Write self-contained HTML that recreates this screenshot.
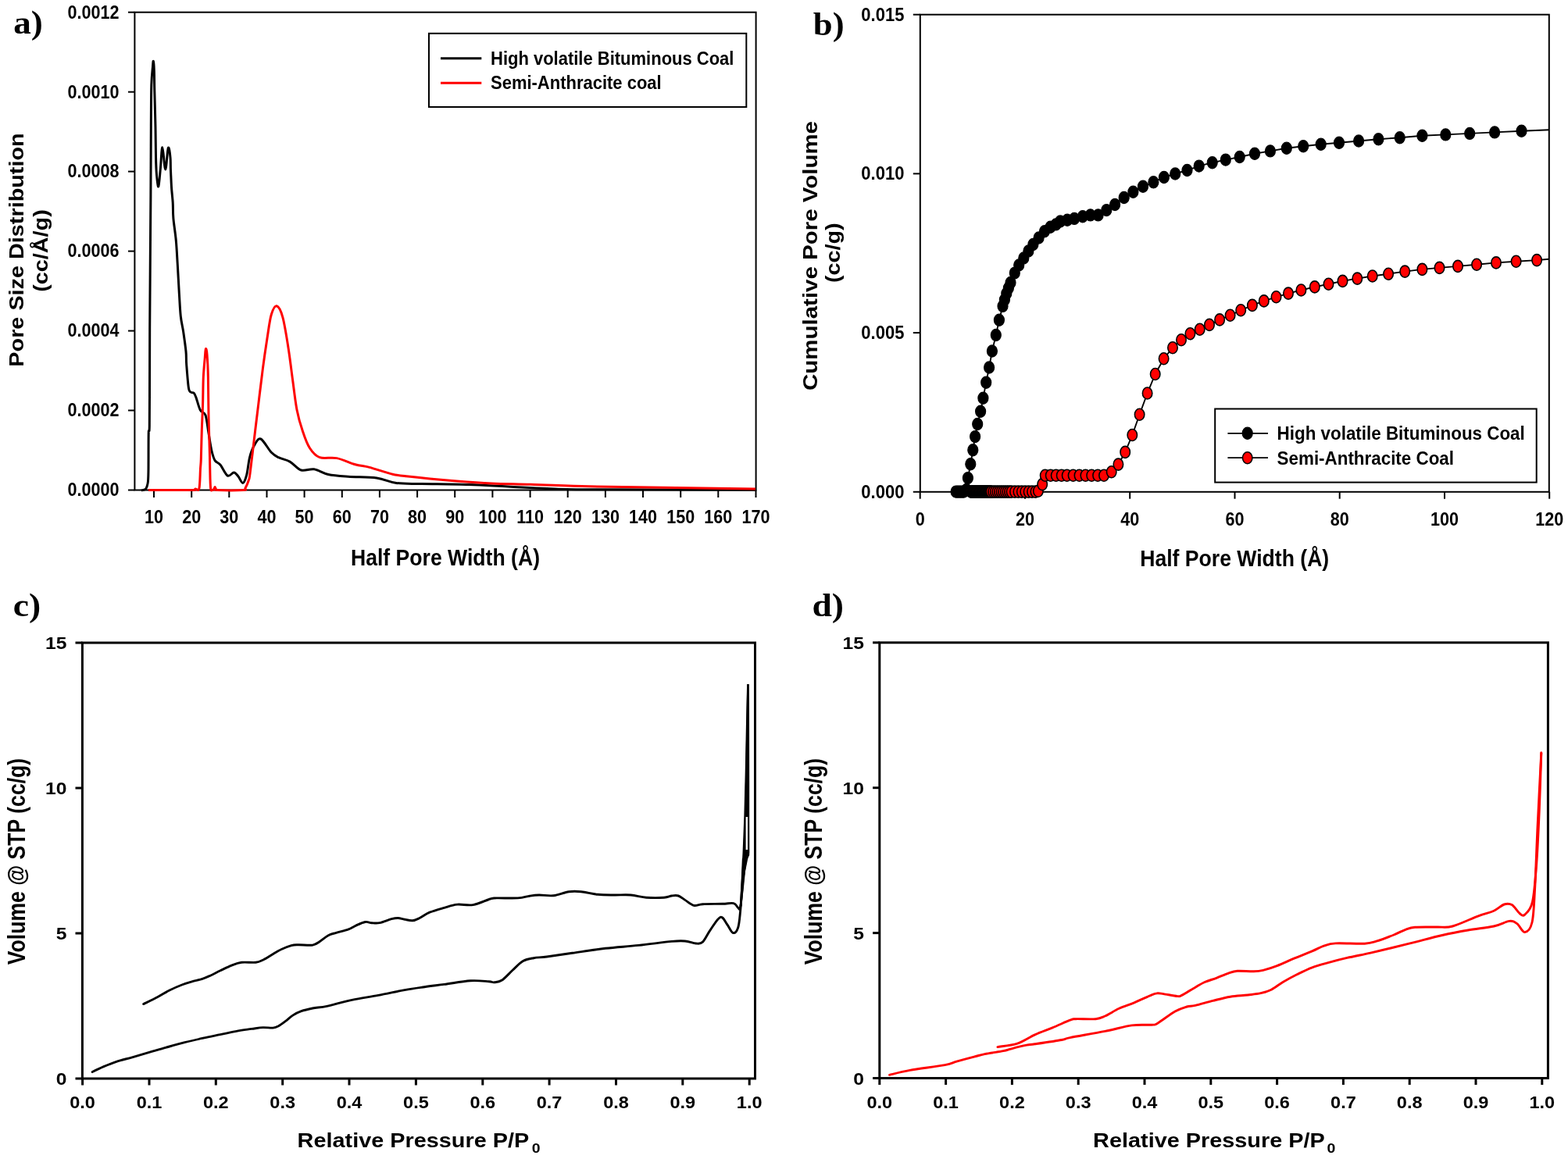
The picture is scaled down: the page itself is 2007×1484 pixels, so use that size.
<!DOCTYPE html><html><head><meta charset="utf-8"><title>Pore size distribution and isotherms</title>
<style>html,body{margin:0;padding:0;background:#fff;}body{width:2007px;height:1484px;overflow:hidden;}svg{display:block;}</style></head><body>
<svg width="2007" height="1484" viewBox="0 0 2007 1484">
<rect x="0" y="0" width="2007" height="1484" fill="#fff"/>
<text transform="translate(17.2 42.5) scale(1.05 1.0)" font-family="'Liberation Serif', 'Times New Roman', serif" font-size="43" font-weight="bold" text-anchor="start" fill="#000">a)</text>
<text transform="translate(1040.8 44.5) scale(1.04 1.0)" font-family="'Liberation Serif', 'Times New Roman', serif" font-size="43" font-weight="bold" text-anchor="start" fill="#000">b)</text>
<text transform="translate(16.8 789) scale(1.06 1.0)" font-family="'Liberation Serif', 'Times New Roman', serif" font-size="43" font-weight="bold" text-anchor="start" fill="#000">c)</text>
<text transform="translate(1039.5 789) scale(1.06 1.0)" font-family="'Liberation Serif', 'Times New Roman', serif" font-size="43" font-weight="bold" text-anchor="start" fill="#000">d)</text>
<g stroke="#000" stroke-width="2.0" fill="none" stroke-linecap="butt">
<rect x="172.4" y="15.7" width="795.2" height="611.8"/>
<line x1="164" y1="627.5" x2="172.4" y2="627.5"/>
<line x1="164" y1="525.5" x2="172.4" y2="525.5"/>
<line x1="164" y1="423.6" x2="172.4" y2="423.6"/>
<line x1="164" y1="321.6" x2="172.4" y2="321.6"/>
<line x1="164" y1="219.6" x2="172.4" y2="219.6"/>
<line x1="164" y1="117.7" x2="172.4" y2="117.7"/>
<line x1="164" y1="15.7" x2="172.4" y2="15.7"/>
<line x1="197" y1="627.5" x2="197" y2="637"/>
<line x1="245.2" y1="627.5" x2="245.2" y2="637"/>
<line x1="293.3" y1="627.5" x2="293.3" y2="637"/>
<line x1="341.5" y1="627.5" x2="341.5" y2="637"/>
<line x1="389.6" y1="627.5" x2="389.6" y2="637"/>
<line x1="437.8" y1="627.5" x2="437.8" y2="637"/>
<line x1="485.9" y1="627.5" x2="485.9" y2="637"/>
<line x1="534.1" y1="627.5" x2="534.1" y2="637"/>
<line x1="582.2" y1="627.5" x2="582.2" y2="637"/>
<line x1="630.4" y1="627.5" x2="630.4" y2="637"/>
<line x1="678.6" y1="627.5" x2="678.6" y2="637"/>
<line x1="726.7" y1="627.5" x2="726.7" y2="637"/>
<line x1="774.9" y1="627.5" x2="774.9" y2="637"/>
<line x1="823" y1="627.5" x2="823" y2="637"/>
<line x1="871.2" y1="627.5" x2="871.2" y2="637"/>
<line x1="919.3" y1="627.5" x2="919.3" y2="637"/>
<line x1="967.5" y1="627.5" x2="967.5" y2="637"/>
</g>
<text transform="translate(152.5 635.3) scale(1.0 1.1)" font-family="'Liberation Sans', Arial, Helvetica, sans-serif" font-size="21.6" font-weight="bold" text-anchor="end" fill="#000">0.0000</text>
<text transform="translate(152.5 533.3) scale(1.0 1.1)" font-family="'Liberation Sans', Arial, Helvetica, sans-serif" font-size="21.6" font-weight="bold" text-anchor="end" fill="#000">0.0002</text>
<text transform="translate(152.5 431.4) scale(1.0 1.1)" font-family="'Liberation Sans', Arial, Helvetica, sans-serif" font-size="21.6" font-weight="bold" text-anchor="end" fill="#000">0.0004</text>
<text transform="translate(152.5 329.4) scale(1.0 1.1)" font-family="'Liberation Sans', Arial, Helvetica, sans-serif" font-size="21.6" font-weight="bold" text-anchor="end" fill="#000">0.0006</text>
<text transform="translate(152.5 227.4) scale(1.0 1.1)" font-family="'Liberation Sans', Arial, Helvetica, sans-serif" font-size="21.6" font-weight="bold" text-anchor="end" fill="#000">0.0008</text>
<text transform="translate(152.5 125.5) scale(1.0 1.1)" font-family="'Liberation Sans', Arial, Helvetica, sans-serif" font-size="21.6" font-weight="bold" text-anchor="end" fill="#000">0.0010</text>
<text transform="translate(152.5 23.5) scale(1.0 1.1)" font-family="'Liberation Sans', Arial, Helvetica, sans-serif" font-size="21.6" font-weight="bold" text-anchor="end" fill="#000">0.0012</text>
<text transform="translate(197 669.6) scale(1.0 1.1)" font-family="'Liberation Sans', Arial, Helvetica, sans-serif" font-size="21.6" font-weight="bold" text-anchor="middle" fill="#000">10</text>
<text transform="translate(245.2 669.6) scale(1.0 1.1)" font-family="'Liberation Sans', Arial, Helvetica, sans-serif" font-size="21.6" font-weight="bold" text-anchor="middle" fill="#000">20</text>
<text transform="translate(293.3 669.6) scale(1.0 1.1)" font-family="'Liberation Sans', Arial, Helvetica, sans-serif" font-size="21.6" font-weight="bold" text-anchor="middle" fill="#000">30</text>
<text transform="translate(341.5 669.6) scale(1.0 1.1)" font-family="'Liberation Sans', Arial, Helvetica, sans-serif" font-size="21.6" font-weight="bold" text-anchor="middle" fill="#000">40</text>
<text transform="translate(389.6 669.6) scale(1.0 1.1)" font-family="'Liberation Sans', Arial, Helvetica, sans-serif" font-size="21.6" font-weight="bold" text-anchor="middle" fill="#000">50</text>
<text transform="translate(437.8 669.6) scale(1.0 1.1)" font-family="'Liberation Sans', Arial, Helvetica, sans-serif" font-size="21.6" font-weight="bold" text-anchor="middle" fill="#000">60</text>
<text transform="translate(485.9 669.6) scale(1.0 1.1)" font-family="'Liberation Sans', Arial, Helvetica, sans-serif" font-size="21.6" font-weight="bold" text-anchor="middle" fill="#000">70</text>
<text transform="translate(534.1 669.6) scale(1.0 1.1)" font-family="'Liberation Sans', Arial, Helvetica, sans-serif" font-size="21.6" font-weight="bold" text-anchor="middle" fill="#000">80</text>
<text transform="translate(582.2 669.6) scale(1.0 1.1)" font-family="'Liberation Sans', Arial, Helvetica, sans-serif" font-size="21.6" font-weight="bold" text-anchor="middle" fill="#000">90</text>
<text transform="translate(630.4 669.6) scale(1.0 1.1)" font-family="'Liberation Sans', Arial, Helvetica, sans-serif" font-size="21.6" font-weight="bold" text-anchor="middle" fill="#000">100</text>
<text transform="translate(678.6 669.6) scale(1.0 1.1)" font-family="'Liberation Sans', Arial, Helvetica, sans-serif" font-size="21.6" font-weight="bold" text-anchor="middle" fill="#000">110</text>
<text transform="translate(726.7 669.6) scale(1.0 1.1)" font-family="'Liberation Sans', Arial, Helvetica, sans-serif" font-size="21.6" font-weight="bold" text-anchor="middle" fill="#000">120</text>
<text transform="translate(774.9 669.6) scale(1.0 1.1)" font-family="'Liberation Sans', Arial, Helvetica, sans-serif" font-size="21.6" font-weight="bold" text-anchor="middle" fill="#000">130</text>
<text transform="translate(823 669.6) scale(1.0 1.1)" font-family="'Liberation Sans', Arial, Helvetica, sans-serif" font-size="21.6" font-weight="bold" text-anchor="middle" fill="#000">140</text>
<text transform="translate(871.2 669.6) scale(1.0 1.1)" font-family="'Liberation Sans', Arial, Helvetica, sans-serif" font-size="21.6" font-weight="bold" text-anchor="middle" fill="#000">150</text>
<text transform="translate(919.3 669.6) scale(1.0 1.1)" font-family="'Liberation Sans', Arial, Helvetica, sans-serif" font-size="21.6" font-weight="bold" text-anchor="middle" fill="#000">160</text>
<text transform="translate(967.5 669.6) scale(1.0 1.1)" font-family="'Liberation Sans', Arial, Helvetica, sans-serif" font-size="21.6" font-weight="bold" text-anchor="middle" fill="#000">170</text>
<text transform="translate(570 723.9) scale(1.0 1.1)" font-family="'Liberation Sans', Arial, Helvetica, sans-serif" font-size="26.6" font-weight="bold" text-anchor="middle" fill="#000">Half Pore Width (Å)</text>
<text transform="translate(30 320) rotate(-90) scale(1.1 1.0)" font-family="'Liberation Sans', Arial, Helvetica, sans-serif" font-size="26.2" font-weight="bold" text-anchor="middle" fill="#000">Pore Size Distribution</text>
<text transform="translate(60.5 321) rotate(-90) scale(1.1 1.0)" font-family="'Liberation Sans', Arial, Helvetica, sans-serif" font-size="26.2" font-weight="bold" text-anchor="middle" fill="#000">(cc/Å/g)</text>
<path fill="none" stroke="#000" stroke-width="3.0" stroke-linejoin="round" d="M181 628 C181.8 627.8 184.8 627.3 186 626.5 C187.2 625.7 187.4 624.8 188 623 C188.6 621.2 189.2 619.8 189.5 616 C189.8 612.2 189.9 610.2 190 600 C190.1 589.8 190 564.2 190.2 555 C190.4 545.8 191.1 559.2 191.3 545 C191.5 530.8 191.5 490.8 191.6 470 C191.7 449.2 191.5 456.7 191.7 420 C191.9 383.3 192.6 293.2 192.9 250 C193.2 206.8 193.2 184.5 193.3 161 C193.5 137.5 193.4 121.7 193.8 109 C194.2 96.3 195.1 90.1 195.5 85 C195.9 79.9 196 77.6 196.3 78.4 C196.6 79.2 197.1 83.6 197.3 90 C197.6 96.4 197.5 104.4 197.8 116.6 C198.1 128.8 198.7 149.1 199 163 C199.3 176.9 199.3 190.1 199.5 200 C199.7 209.9 199.8 216.2 200.4 222.7 C201 229.2 202 240.2 202.8 239 C203.6 237.8 204.6 224 205.4 215.6 C206.2 207.2 206.9 188.5 207.9 188.7 C208.9 188.9 210.5 216.9 211.7 217 C212.9 217.1 214.2 192 215.3 189.4 C216.4 186.8 217.5 196.6 218 201.4 C218.5 206.2 218.2 212 218.5 218.4 C218.8 224.8 219.1 232.8 219.5 239.6 C219.9 246.4 220.8 252.7 221.2 259.4 C221.6 266.1 221.2 271.5 221.9 279.6 C222.6 287.7 224.4 298.1 225.3 308 C226.2 317.9 226.6 327.8 227.3 339 C228 350.2 228.6 364 229.3 375 C230 386 230.4 396.7 231.3 405 C232.2 413.3 233.6 417.5 234.7 425 C235.8 432.5 237.3 443 238 450 C238.7 457 238.1 459.2 238.7 467 C239.3 474.8 240.5 490.8 241.4 496.6 C242.3 502.4 243 500.9 244.1 502 C245.2 503.1 247.1 502.2 248.2 503.3 C249.3 504.4 249.6 505.1 250.9 508.7 C252.2 512.3 254.3 521.2 256.3 525 C258.3 528.8 261.2 526.7 263 531.6 C264.8 536.5 265.7 547 267 554.6 C268.3 562.2 269.6 571.7 271 577.5 C272.4 583.3 273.3 586.7 275.1 589.6 C276.9 592.5 279.2 591.8 281.9 595 C284.6 598.2 288.4 607.4 291.3 609.1 C294.2 610.8 297.1 604.9 299.4 605 C301.6 605.1 302.9 607.6 304.8 609.8 C306.7 612 309 618.6 310.8 618.4 C312.6 618.2 314.1 614 315.6 608.5 C317.1 603 318 591.9 319.6 585.5 C321.2 579.1 323.1 574.1 325.5 570.2 C327.9 566.3 330.1 560.5 333.7 562 C337.3 563.5 343.5 575.3 347.3 579.3 C351.1 583.2 352.4 583.7 356.4 585.7 C360.3 587.7 366.1 588.4 371 591.1 C375.9 593.8 380.4 600.4 385.5 602 C390.6 603.6 396.1 599.9 401.9 600.8 C407.7 601.7 412.8 605.9 420.1 607.5 C427.4 609.1 435.3 609.5 445.6 610.2 C455.9 611 471.7 610.6 482 612 C492.3 613.4 497.7 617.2 507.4 618.5 C517.1 619.8 524.6 619.2 540 619.5 C555.4 619.8 581.7 619.9 600 620.5 C618.3 621.1 633.3 622.2 650 623 C666.7 623.8 681.7 624.9 700 625.5 C718.3 626.1 715.5 626.5 760 626.8 C804.5 627.1 932.5 627.2 967 627.3"/>
<path fill="none" stroke="#f00" stroke-width="3.0" stroke-linejoin="round" d="M190 627.5 C199.2 627.5 235 627.8 245 627.5 C255 627.2 248.3 626.3 250 626 C251.7 625.7 253.8 629.8 254.9 625.5 C256 621.2 256.1 606.2 256.5 600 C256.9 593.8 257 596.2 257.3 588 C257.6 579.8 257.9 562.4 258.3 550.5 C258.7 538.6 259.3 528 259.6 516.8 C259.9 505.5 259.9 492.9 260.3 483 C260.8 473.1 261.8 463.6 262.3 457.5 C262.8 451.4 262.9 447.4 263.4 446.7 C263.8 446 264.5 447.4 265 453.5 C265.5 459.6 266.1 470 266.4 483 C266.7 496 266.7 515.2 267 531.6 C267.3 548 268.1 568.1 268.4 581.5 C268.7 594.9 268.8 604.5 269 612 C269.2 619.5 269.3 623.9 269.8 626.5 C270.3 629.1 271.3 627.6 272 627.5 C272.7 627.4 273.5 626.6 274 626 C274.5 625.4 274.7 623.6 275.1 623.6 C275.5 623.6 275.8 625.4 276.3 626 C276.8 626.6 272.1 627.2 278 627.5 C283.9 627.8 305.5 627.9 311.5 627.5 C317.5 627.1 312.9 627 314 625 C315.1 623 317.2 618.3 318.2 615.2 C319.2 612.1 318.8 615.6 320 606.6 C321.2 597.6 323.7 576.2 325.5 561 C327.3 545.8 329.2 530.5 331 515.6 C332.8 500.8 334.6 485.5 336.4 471.9 C338.2 458.2 340.1 445.2 341.9 433.7 C343.7 422.2 345.2 409.8 347.3 402.8 C349.4 395.8 351.8 391.2 354.2 391.8 C356.6 392.4 359.4 397.3 361.9 406.4 C364.4 415.5 367.1 433 369.2 446.4 C371.3 459.8 372.8 473.4 374.6 486.5 C376.4 499.6 377.9 513.8 380 524.7 C382.1 535.6 384.6 543.8 387.4 552 C390.1 560.2 392.9 568.2 396.5 573.8 C400.1 579.4 403.4 583.6 409.2 585.7 C414.9 587.8 423.4 585.1 431 586.6 C438.6 588.1 447.7 592.7 454.7 594.7 C461.7 596.7 465.3 596.4 472.9 598.4 C480.5 600.4 492.4 604.7 500.2 606.6 C508 608.5 505.8 608.2 519.9 609.8 C534 611.4 566.3 614.5 584.6 616 C602.9 617.5 613.7 618.3 629.5 619 C645.3 619.7 658.5 619.7 679.3 620.3 C700 620.9 725.8 622.1 754 622.8 C782.2 623.5 813.2 623.8 848.7 624.3 C884.2 624.8 947.3 625.7 967 626"/>
<rect x="549" y="42.8" width="406.3" height="94.2" fill="#fff" stroke="#000" stroke-width="2"/>
<line x1="564" y1="74.8" x2="616.3" y2="74.8" stroke="#000" stroke-width="3"/>
<line x1="564" y1="106.2" x2="616.3" y2="106.2" stroke="#f00" stroke-width="3"/>
<text transform="translate(628 82.7) scale(1.0 1.1)" font-family="'Liberation Sans', Arial, Helvetica, sans-serif" font-size="22.0" font-weight="bold" text-anchor="start" fill="#000">High volatile Bituminous Coal</text>
<text transform="translate(628 113.5) scale(1.0 1.1)" font-family="'Liberation Sans', Arial, Helvetica, sans-serif" font-size="22.0" font-weight="bold" text-anchor="start" fill="#000">Semi-Anthracite coal</text>
<g stroke="#000" stroke-width="2" fill="none" stroke-linecap="butt">
<rect x="1177.8" y="18.7" width="805" height="611.1"/>
<line x1="1168.8" y1="629.8" x2="1177.8" y2="629.8"/>
<line x1="1168.8" y1="426.1" x2="1177.8" y2="426.1"/>
<line x1="1168.8" y1="222.4" x2="1177.8" y2="222.4"/>
<line x1="1168.8" y1="18.7" x2="1177.8" y2="18.7"/>
<line x1="1177.7" y1="629.8" x2="1177.7" y2="638.7"/>
<line x1="1312" y1="629.8" x2="1312" y2="638.7"/>
<line x1="1446.2" y1="629.8" x2="1446.2" y2="638.7"/>
<line x1="1580.5" y1="629.8" x2="1580.5" y2="638.7"/>
<line x1="1714.7" y1="629.8" x2="1714.7" y2="638.7"/>
<line x1="1849" y1="629.8" x2="1849" y2="638.7"/>
<line x1="1983.2" y1="629.8" x2="1983.2" y2="638.7"/>
</g>
<text transform="translate(1157.4 637.8) scale(1.0 1.1)" font-family="'Liberation Sans', Arial, Helvetica, sans-serif" font-size="22" font-weight="bold" text-anchor="end" fill="#000">0.000</text>
<text transform="translate(1157.4 434.1) scale(1.0 1.1)" font-family="'Liberation Sans', Arial, Helvetica, sans-serif" font-size="22" font-weight="bold" text-anchor="end" fill="#000">0.005</text>
<text transform="translate(1157.4 230.4) scale(1.0 1.1)" font-family="'Liberation Sans', Arial, Helvetica, sans-serif" font-size="22" font-weight="bold" text-anchor="end" fill="#000">0.010</text>
<text transform="translate(1157.4 26.7) scale(1.0 1.1)" font-family="'Liberation Sans', Arial, Helvetica, sans-serif" font-size="22" font-weight="bold" text-anchor="end" fill="#000">0.015</text>
<text transform="translate(1177.7 672.8) scale(1.0 1.1)" font-family="'Liberation Sans', Arial, Helvetica, sans-serif" font-size="21.6" font-weight="bold" text-anchor="middle" fill="#000">0</text>
<text transform="translate(1312 672.8) scale(1.0 1.1)" font-family="'Liberation Sans', Arial, Helvetica, sans-serif" font-size="21.6" font-weight="bold" text-anchor="middle" fill="#000">20</text>
<text transform="translate(1446.2 672.8) scale(1.0 1.1)" font-family="'Liberation Sans', Arial, Helvetica, sans-serif" font-size="21.6" font-weight="bold" text-anchor="middle" fill="#000">40</text>
<text transform="translate(1580.5 672.8) scale(1.0 1.1)" font-family="'Liberation Sans', Arial, Helvetica, sans-serif" font-size="21.6" font-weight="bold" text-anchor="middle" fill="#000">60</text>
<text transform="translate(1714.7 672.8) scale(1.0 1.1)" font-family="'Liberation Sans', Arial, Helvetica, sans-serif" font-size="21.6" font-weight="bold" text-anchor="middle" fill="#000">80</text>
<text transform="translate(1849 672.8) scale(1.0 1.1)" font-family="'Liberation Sans', Arial, Helvetica, sans-serif" font-size="21.6" font-weight="bold" text-anchor="middle" fill="#000">100</text>
<text transform="translate(1983.2 672.8) scale(1.0 1.1)" font-family="'Liberation Sans', Arial, Helvetica, sans-serif" font-size="21.6" font-weight="bold" text-anchor="middle" fill="#000">120</text>
<text transform="translate(1580.2 725.3) scale(1.0 1.1)" font-family="'Liberation Sans', Arial, Helvetica, sans-serif" font-size="26.6" font-weight="bold" text-anchor="middle" fill="#000">Half Pore Width (Å)</text>
<text transform="translate(1045.9 327.5) rotate(-90) scale(1.125 1.0)" font-family="'Liberation Sans', Arial, Helvetica, sans-serif" font-size="26.2" font-weight="bold" text-anchor="middle" fill="#000">Cumulative Pore Volume</text>
<text transform="translate(1075 323.7) rotate(-90) scale(1.1 1.0)" font-family="'Liberation Sans', Arial, Helvetica, sans-serif" font-size="26.2" font-weight="bold" text-anchor="middle" fill="#000">(cc/g)</text>
<polyline fill="none" stroke="#000" stroke-width="1.9" points="1223.6,629.6 1225.6,629.6 1227.6,629.6 1229.6,629.6 1231.6,629.6 1233.6,629.6 1237,627 1238.9,612.1 1242.3,594.2 1245.3,576.3 1248.1,559.1 1251.2,543 1255.1,526.8 1258.4,509.7 1262.2,489.7 1266.1,470.5 1269.9,449.5 1274.8,429 1278.9,409.8 1283.5,391.9 1285.9,383.8 1288.3,375.7 1290.9,368.8 1293.5,361.9 1298.8,349.6 1304.2,339.5 1310.3,330.5 1316.4,321.5 1322.4,313 1329.6,304.5 1337,296.3 1344.5,290.8 1351.5,287.4 1357.1,283.5 1366.1,281.7 1375.1,279.9 1385.8,277.2 1395.7,275.4 1405.6,275.4 1416.3,269.1 1427.1,262 1438.7,253 1450.4,245.8 1463,238.7 1476.4,233.3 1489.9,227 1504.2,222.5 1519.5,218 1534.7,212.6 1551.7,208.2 1568.8,204.6 1586.7,201 1606,196.8 1625.9,193.4 1646.8,189.8 1668.2,187.2 1690.7,184.8 1714,182.8 1739.1,180.5 1764.4,178.3 1791.7,176.3 1820.4,173.8 1850.3,172.4 1881.2,170.9 1913.1,169.4 1947.5,167.7 1982.8,166.2"/>
<ellipse cx="1223.6" cy="629.6" rx="6.5" ry="7.6" fill="#000" stroke="#000" stroke-width="1.2"/>
<ellipse cx="1225.6" cy="629.6" rx="6.5" ry="7.6" fill="#000" stroke="#000" stroke-width="1.2"/>
<ellipse cx="1227.6" cy="629.6" rx="6.5" ry="7.6" fill="#000" stroke="#000" stroke-width="1.2"/>
<ellipse cx="1229.6" cy="629.6" rx="6.5" ry="7.6" fill="#000" stroke="#000" stroke-width="1.2"/>
<ellipse cx="1231.6" cy="629.6" rx="6.5" ry="7.6" fill="#000" stroke="#000" stroke-width="1.2"/>
<ellipse cx="1233.6" cy="629.6" rx="6.5" ry="7.6" fill="#000" stroke="#000" stroke-width="1.2"/>
<ellipse cx="1237" cy="627" rx="6.5" ry="7.6" fill="#000" stroke="#000" stroke-width="1.2"/>
<ellipse cx="1238.9" cy="612.1" rx="6.5" ry="7.6" fill="#000" stroke="#000" stroke-width="1.2"/>
<ellipse cx="1242.3" cy="594.2" rx="6.5" ry="7.6" fill="#000" stroke="#000" stroke-width="1.2"/>
<ellipse cx="1245.3" cy="576.3" rx="6.5" ry="7.6" fill="#000" stroke="#000" stroke-width="1.2"/>
<ellipse cx="1248.1" cy="559.1" rx="6.5" ry="7.6" fill="#000" stroke="#000" stroke-width="1.2"/>
<ellipse cx="1251.2" cy="543" rx="6.5" ry="7.6" fill="#000" stroke="#000" stroke-width="1.2"/>
<ellipse cx="1255.1" cy="526.8" rx="6.5" ry="7.6" fill="#000" stroke="#000" stroke-width="1.2"/>
<ellipse cx="1258.4" cy="509.7" rx="6.5" ry="7.6" fill="#000" stroke="#000" stroke-width="1.2"/>
<ellipse cx="1262.2" cy="489.7" rx="6.5" ry="7.6" fill="#000" stroke="#000" stroke-width="1.2"/>
<ellipse cx="1266.1" cy="470.5" rx="6.5" ry="7.6" fill="#000" stroke="#000" stroke-width="1.2"/>
<ellipse cx="1269.9" cy="449.5" rx="6.5" ry="7.6" fill="#000" stroke="#000" stroke-width="1.2"/>
<ellipse cx="1274.8" cy="429" rx="6.5" ry="7.6" fill="#000" stroke="#000" stroke-width="1.2"/>
<ellipse cx="1278.9" cy="409.8" rx="6.5" ry="7.6" fill="#000" stroke="#000" stroke-width="1.2"/>
<ellipse cx="1283.5" cy="391.9" rx="6.5" ry="7.6" fill="#000" stroke="#000" stroke-width="1.2"/>
<ellipse cx="1285.9" cy="383.8" rx="6.5" ry="7.6" fill="#000" stroke="#000" stroke-width="1.2"/>
<ellipse cx="1288.3" cy="375.7" rx="6.5" ry="7.6" fill="#000" stroke="#000" stroke-width="1.2"/>
<ellipse cx="1290.9" cy="368.8" rx="6.5" ry="7.6" fill="#000" stroke="#000" stroke-width="1.2"/>
<ellipse cx="1293.5" cy="361.9" rx="6.5" ry="7.6" fill="#000" stroke="#000" stroke-width="1.2"/>
<ellipse cx="1298.8" cy="349.6" rx="6.5" ry="7.6" fill="#000" stroke="#000" stroke-width="1.2"/>
<ellipse cx="1304.2" cy="339.5" rx="6.5" ry="7.6" fill="#000" stroke="#000" stroke-width="1.2"/>
<ellipse cx="1310.3" cy="330.5" rx="6.5" ry="7.6" fill="#000" stroke="#000" stroke-width="1.2"/>
<ellipse cx="1316.4" cy="321.5" rx="6.5" ry="7.6" fill="#000" stroke="#000" stroke-width="1.2"/>
<ellipse cx="1322.4" cy="313" rx="6.5" ry="7.6" fill="#000" stroke="#000" stroke-width="1.2"/>
<ellipse cx="1329.6" cy="304.5" rx="6.5" ry="7.6" fill="#000" stroke="#000" stroke-width="1.2"/>
<ellipse cx="1337" cy="296.3" rx="6.5" ry="7.6" fill="#000" stroke="#000" stroke-width="1.2"/>
<ellipse cx="1344.5" cy="290.8" rx="6.5" ry="7.6" fill="#000" stroke="#000" stroke-width="1.2"/>
<ellipse cx="1351.5" cy="287.4" rx="6.5" ry="7.6" fill="#000" stroke="#000" stroke-width="1.2"/>
<ellipse cx="1357.1" cy="283.5" rx="6.5" ry="7.6" fill="#000" stroke="#000" stroke-width="1.2"/>
<ellipse cx="1366.1" cy="281.7" rx="6.5" ry="7.6" fill="#000" stroke="#000" stroke-width="1.2"/>
<ellipse cx="1375.1" cy="279.9" rx="6.5" ry="7.6" fill="#000" stroke="#000" stroke-width="1.2"/>
<ellipse cx="1385.8" cy="277.2" rx="6.5" ry="7.6" fill="#000" stroke="#000" stroke-width="1.2"/>
<ellipse cx="1395.7" cy="275.4" rx="6.5" ry="7.6" fill="#000" stroke="#000" stroke-width="1.2"/>
<ellipse cx="1405.6" cy="275.4" rx="6.5" ry="7.6" fill="#000" stroke="#000" stroke-width="1.2"/>
<ellipse cx="1416.3" cy="269.1" rx="6.5" ry="7.6" fill="#000" stroke="#000" stroke-width="1.2"/>
<ellipse cx="1427.1" cy="262" rx="6.5" ry="7.6" fill="#000" stroke="#000" stroke-width="1.2"/>
<ellipse cx="1438.7" cy="253" rx="6.5" ry="7.6" fill="#000" stroke="#000" stroke-width="1.2"/>
<ellipse cx="1450.4" cy="245.8" rx="6.5" ry="7.6" fill="#000" stroke="#000" stroke-width="1.2"/>
<ellipse cx="1463" cy="238.7" rx="6.5" ry="7.6" fill="#000" stroke="#000" stroke-width="1.2"/>
<ellipse cx="1476.4" cy="233.3" rx="6.5" ry="7.6" fill="#000" stroke="#000" stroke-width="1.2"/>
<ellipse cx="1489.9" cy="227" rx="6.5" ry="7.6" fill="#000" stroke="#000" stroke-width="1.2"/>
<ellipse cx="1504.2" cy="222.5" rx="6.5" ry="7.6" fill="#000" stroke="#000" stroke-width="1.2"/>
<ellipse cx="1519.5" cy="218" rx="6.5" ry="7.6" fill="#000" stroke="#000" stroke-width="1.2"/>
<ellipse cx="1534.7" cy="212.6" rx="6.5" ry="7.6" fill="#000" stroke="#000" stroke-width="1.2"/>
<ellipse cx="1551.7" cy="208.2" rx="6.5" ry="7.6" fill="#000" stroke="#000" stroke-width="1.2"/>
<ellipse cx="1568.8" cy="204.6" rx="6.5" ry="7.6" fill="#000" stroke="#000" stroke-width="1.2"/>
<ellipse cx="1586.7" cy="201" rx="6.5" ry="7.6" fill="#000" stroke="#000" stroke-width="1.2"/>
<ellipse cx="1606" cy="196.8" rx="6.5" ry="7.6" fill="#000" stroke="#000" stroke-width="1.2"/>
<ellipse cx="1625.9" cy="193.4" rx="6.5" ry="7.6" fill="#000" stroke="#000" stroke-width="1.2"/>
<ellipse cx="1646.8" cy="189.8" rx="6.5" ry="7.6" fill="#000" stroke="#000" stroke-width="1.2"/>
<ellipse cx="1668.2" cy="187.2" rx="6.5" ry="7.6" fill="#000" stroke="#000" stroke-width="1.2"/>
<ellipse cx="1690.7" cy="184.8" rx="6.5" ry="7.6" fill="#000" stroke="#000" stroke-width="1.2"/>
<ellipse cx="1714" cy="182.8" rx="6.5" ry="7.6" fill="#000" stroke="#000" stroke-width="1.2"/>
<ellipse cx="1739.1" cy="180.5" rx="6.5" ry="7.6" fill="#000" stroke="#000" stroke-width="1.2"/>
<ellipse cx="1764.4" cy="178.3" rx="6.5" ry="7.6" fill="#000" stroke="#000" stroke-width="1.2"/>
<ellipse cx="1791.7" cy="176.3" rx="6.5" ry="7.6" fill="#000" stroke="#000" stroke-width="1.2"/>
<ellipse cx="1820.4" cy="173.8" rx="6.5" ry="7.6" fill="#000" stroke="#000" stroke-width="1.2"/>
<ellipse cx="1850.3" cy="172.4" rx="6.5" ry="7.6" fill="#000" stroke="#000" stroke-width="1.2"/>
<ellipse cx="1881.2" cy="170.9" rx="6.5" ry="7.6" fill="#000" stroke="#000" stroke-width="1.2"/>
<ellipse cx="1913.1" cy="169.4" rx="6.5" ry="7.6" fill="#000" stroke="#000" stroke-width="1.2"/>
<ellipse cx="1947.5" cy="167.7" rx="6.5" ry="7.6" fill="#000" stroke="#000" stroke-width="1.2"/>
<polyline fill="none" stroke="#000" stroke-width="1.9" points="1243,629.6 1243.8,629.6 1244.6,629.6 1245.4,629.6 1246.2,629.6 1247,629.6 1247.8,629.6 1248.6,629.6 1249.4,629.6 1250.2,629.6 1251,629.6 1251.8,629.6 1252.6,629.6 1253.4,629.6 1254.2,629.6 1255,629.6 1255.8,629.6 1256.6,629.6 1257.4,629.6 1258.2,629.6 1259,629.6 1259.8,629.6 1260.6,629.6 1261.4,629.6 1262.2,629.6 1263,629.6 1263.8,629.6 1264.6,629.6 1265.4,629.6 1266.2,629.6 1267,629.6 1267.8,629.6 1268.6,629.6 1271.2,629.6 1273.8,629.6 1276.4,629.6 1279,629.6 1281.6,629.6 1284.2,629.6 1286.8,629.6 1289.4,629.6 1292,629.6 1294.6,629.6 1299,629.6 1303.4,629.6 1307.8,629.6 1312.2,629.6 1316.6,629.6 1321,629.6 1325.4,629.6 1328.9,628.8 1334.2,620.1 1337.7,608.7 1344.7,608.7 1351.7,608.7 1358.7,608.7 1365.7,608.7 1373.6,608.7 1381.5,608.7 1389.4,608.7 1397.2,608.7 1405.1,608.7 1413,608.7 1422.7,604.3 1431.4,594.6 1440.2,578.9 1449.3,557 1458.6,530.7 1468.6,503.5 1478.7,479 1489.6,459.2 1501,445.2 1512,435.2 1523.4,427.3 1535.7,421.7 1548,415.9 1561.1,409.4 1574.6,403.7 1588.2,397.3 1602.9,390.9 1617.8,385.4 1633.5,380.3 1649,375.6 1665.4,371.5 1682.8,367.4 1700.5,363.7 1718.5,359.9 1737.3,356.6 1756.7,353.5 1777.1,350.7 1798.2,347.6 1820.4,344.9 1842.5,342.9 1866,340.9 1890.1,338.8 1915,336.4 1940.6,334.7 1967.1,333.1 1982.8,331.7"/>
<ellipse cx="1243" cy="629.6" rx="6.2" ry="7.5" fill="#f00" stroke="#000" stroke-width="1.6"/>
<ellipse cx="1243.8" cy="629.6" rx="6.2" ry="7.5" fill="#f00" stroke="#000" stroke-width="1.6"/>
<ellipse cx="1244.6" cy="629.6" rx="6.2" ry="7.5" fill="#f00" stroke="#000" stroke-width="1.6"/>
<ellipse cx="1245.4" cy="629.6" rx="6.2" ry="7.5" fill="#f00" stroke="#000" stroke-width="1.6"/>
<ellipse cx="1246.2" cy="629.6" rx="6.2" ry="7.5" fill="#f00" stroke="#000" stroke-width="1.6"/>
<ellipse cx="1247" cy="629.6" rx="6.2" ry="7.5" fill="#f00" stroke="#000" stroke-width="1.6"/>
<ellipse cx="1247.8" cy="629.6" rx="6.2" ry="7.5" fill="#f00" stroke="#000" stroke-width="1.6"/>
<ellipse cx="1248.6" cy="629.6" rx="6.2" ry="7.5" fill="#f00" stroke="#000" stroke-width="1.6"/>
<ellipse cx="1249.4" cy="629.6" rx="6.2" ry="7.5" fill="#f00" stroke="#000" stroke-width="1.6"/>
<ellipse cx="1250.2" cy="629.6" rx="6.2" ry="7.5" fill="#f00" stroke="#000" stroke-width="1.6"/>
<ellipse cx="1251" cy="629.6" rx="6.2" ry="7.5" fill="#f00" stroke="#000" stroke-width="1.6"/>
<ellipse cx="1251.8" cy="629.6" rx="6.2" ry="7.5" fill="#f00" stroke="#000" stroke-width="1.6"/>
<ellipse cx="1252.6" cy="629.6" rx="6.2" ry="7.5" fill="#f00" stroke="#000" stroke-width="1.6"/>
<ellipse cx="1253.4" cy="629.6" rx="6.2" ry="7.5" fill="#f00" stroke="#000" stroke-width="1.6"/>
<ellipse cx="1254.2" cy="629.6" rx="6.2" ry="7.5" fill="#f00" stroke="#000" stroke-width="1.6"/>
<ellipse cx="1255" cy="629.6" rx="6.2" ry="7.5" fill="#f00" stroke="#000" stroke-width="1.6"/>
<ellipse cx="1255.8" cy="629.6" rx="6.2" ry="7.5" fill="#f00" stroke="#000" stroke-width="1.6"/>
<ellipse cx="1256.6" cy="629.6" rx="6.2" ry="7.5" fill="#f00" stroke="#000" stroke-width="1.6"/>
<ellipse cx="1257.4" cy="629.6" rx="6.2" ry="7.5" fill="#f00" stroke="#000" stroke-width="1.6"/>
<ellipse cx="1258.2" cy="629.6" rx="6.2" ry="7.5" fill="#f00" stroke="#000" stroke-width="1.6"/>
<ellipse cx="1259" cy="629.6" rx="6.2" ry="7.5" fill="#f00" stroke="#000" stroke-width="1.6"/>
<ellipse cx="1259.8" cy="629.6" rx="6.2" ry="7.5" fill="#f00" stroke="#000" stroke-width="1.6"/>
<ellipse cx="1260.6" cy="629.6" rx="6.2" ry="7.5" fill="#f00" stroke="#000" stroke-width="1.6"/>
<ellipse cx="1261.4" cy="629.6" rx="6.2" ry="7.5" fill="#f00" stroke="#000" stroke-width="1.6"/>
<ellipse cx="1262.2" cy="629.6" rx="6.2" ry="7.5" fill="#f00" stroke="#000" stroke-width="1.6"/>
<ellipse cx="1263" cy="629.6" rx="6.2" ry="7.5" fill="#f00" stroke="#000" stroke-width="1.6"/>
<ellipse cx="1263.8" cy="629.6" rx="6.2" ry="7.5" fill="#f00" stroke="#000" stroke-width="1.6"/>
<ellipse cx="1264.6" cy="629.6" rx="6.2" ry="7.5" fill="#f00" stroke="#000" stroke-width="1.6"/>
<ellipse cx="1265.4" cy="629.6" rx="6.2" ry="7.5" fill="#f00" stroke="#000" stroke-width="1.6"/>
<ellipse cx="1266.2" cy="629.6" rx="6.2" ry="7.5" fill="#f00" stroke="#000" stroke-width="1.6"/>
<ellipse cx="1267" cy="629.6" rx="6.2" ry="7.5" fill="#f00" stroke="#000" stroke-width="1.6"/>
<ellipse cx="1267.8" cy="629.6" rx="6.2" ry="7.5" fill="#f00" stroke="#000" stroke-width="1.6"/>
<ellipse cx="1268.6" cy="629.6" rx="6.2" ry="7.5" fill="#f00" stroke="#000" stroke-width="1.6"/>
<ellipse cx="1271.2" cy="629.6" rx="6.2" ry="7.5" fill="#f00" stroke="#000" stroke-width="1.6"/>
<ellipse cx="1273.8" cy="629.6" rx="6.2" ry="7.5" fill="#f00" stroke="#000" stroke-width="1.6"/>
<ellipse cx="1276.4" cy="629.6" rx="6.2" ry="7.5" fill="#f00" stroke="#000" stroke-width="1.6"/>
<ellipse cx="1279" cy="629.6" rx="6.2" ry="7.5" fill="#f00" stroke="#000" stroke-width="1.6"/>
<ellipse cx="1281.6" cy="629.6" rx="6.2" ry="7.5" fill="#f00" stroke="#000" stroke-width="1.6"/>
<ellipse cx="1284.2" cy="629.6" rx="6.2" ry="7.5" fill="#f00" stroke="#000" stroke-width="1.6"/>
<ellipse cx="1286.8" cy="629.6" rx="6.2" ry="7.5" fill="#f00" stroke="#000" stroke-width="1.6"/>
<ellipse cx="1289.4" cy="629.6" rx="6.2" ry="7.5" fill="#f00" stroke="#000" stroke-width="1.6"/>
<ellipse cx="1292" cy="629.6" rx="6.2" ry="7.5" fill="#f00" stroke="#000" stroke-width="1.6"/>
<ellipse cx="1294.6" cy="629.6" rx="6.2" ry="7.5" fill="#f00" stroke="#000" stroke-width="1.6"/>
<ellipse cx="1299" cy="629.6" rx="6.2" ry="7.5" fill="#f00" stroke="#000" stroke-width="1.6"/>
<ellipse cx="1303.4" cy="629.6" rx="6.2" ry="7.5" fill="#f00" stroke="#000" stroke-width="1.6"/>
<ellipse cx="1307.8" cy="629.6" rx="6.2" ry="7.5" fill="#f00" stroke="#000" stroke-width="1.6"/>
<ellipse cx="1312.2" cy="629.6" rx="6.2" ry="7.5" fill="#f00" stroke="#000" stroke-width="1.6"/>
<ellipse cx="1316.6" cy="629.6" rx="6.2" ry="7.5" fill="#f00" stroke="#000" stroke-width="1.6"/>
<ellipse cx="1321" cy="629.6" rx="6.2" ry="7.5" fill="#f00" stroke="#000" stroke-width="1.6"/>
<ellipse cx="1325.4" cy="629.6" rx="6.2" ry="7.5" fill="#f00" stroke="#000" stroke-width="1.6"/>
<ellipse cx="1328.9" cy="628.8" rx="6.2" ry="7.5" fill="#f00" stroke="#000" stroke-width="1.6"/>
<ellipse cx="1334.2" cy="620.1" rx="6.2" ry="7.5" fill="#f00" stroke="#000" stroke-width="1.6"/>
<ellipse cx="1337.7" cy="608.7" rx="6.2" ry="7.5" fill="#f00" stroke="#000" stroke-width="1.6"/>
<ellipse cx="1344.7" cy="608.7" rx="6.2" ry="7.5" fill="#f00" stroke="#000" stroke-width="1.6"/>
<ellipse cx="1351.7" cy="608.7" rx="6.2" ry="7.5" fill="#f00" stroke="#000" stroke-width="1.6"/>
<ellipse cx="1358.7" cy="608.7" rx="6.2" ry="7.5" fill="#f00" stroke="#000" stroke-width="1.6"/>
<ellipse cx="1365.7" cy="608.7" rx="6.2" ry="7.5" fill="#f00" stroke="#000" stroke-width="1.6"/>
<ellipse cx="1373.6" cy="608.7" rx="6.2" ry="7.5" fill="#f00" stroke="#000" stroke-width="1.6"/>
<ellipse cx="1381.5" cy="608.7" rx="6.2" ry="7.5" fill="#f00" stroke="#000" stroke-width="1.6"/>
<ellipse cx="1389.4" cy="608.7" rx="6.2" ry="7.5" fill="#f00" stroke="#000" stroke-width="1.6"/>
<ellipse cx="1397.2" cy="608.7" rx="6.2" ry="7.5" fill="#f00" stroke="#000" stroke-width="1.6"/>
<ellipse cx="1405.1" cy="608.7" rx="6.2" ry="7.5" fill="#f00" stroke="#000" stroke-width="1.6"/>
<ellipse cx="1413" cy="608.7" rx="6.2" ry="7.5" fill="#f00" stroke="#000" stroke-width="1.6"/>
<ellipse cx="1422.7" cy="604.3" rx="6.2" ry="7.5" fill="#f00" stroke="#000" stroke-width="1.6"/>
<ellipse cx="1431.4" cy="594.6" rx="6.2" ry="7.5" fill="#f00" stroke="#000" stroke-width="1.6"/>
<ellipse cx="1440.2" cy="578.9" rx="6.2" ry="7.5" fill="#f00" stroke="#000" stroke-width="1.6"/>
<ellipse cx="1449.3" cy="557" rx="6.2" ry="7.5" fill="#f00" stroke="#000" stroke-width="1.6"/>
<ellipse cx="1458.6" cy="530.7" rx="6.2" ry="7.5" fill="#f00" stroke="#000" stroke-width="1.6"/>
<ellipse cx="1468.6" cy="503.5" rx="6.2" ry="7.5" fill="#f00" stroke="#000" stroke-width="1.6"/>
<ellipse cx="1478.7" cy="479" rx="6.2" ry="7.5" fill="#f00" stroke="#000" stroke-width="1.6"/>
<ellipse cx="1489.6" cy="459.2" rx="6.2" ry="7.5" fill="#f00" stroke="#000" stroke-width="1.6"/>
<ellipse cx="1501" cy="445.2" rx="6.2" ry="7.5" fill="#f00" stroke="#000" stroke-width="1.6"/>
<ellipse cx="1512" cy="435.2" rx="6.2" ry="7.5" fill="#f00" stroke="#000" stroke-width="1.6"/>
<ellipse cx="1523.4" cy="427.3" rx="6.2" ry="7.5" fill="#f00" stroke="#000" stroke-width="1.6"/>
<ellipse cx="1535.7" cy="421.7" rx="6.2" ry="7.5" fill="#f00" stroke="#000" stroke-width="1.6"/>
<ellipse cx="1548" cy="415.9" rx="6.2" ry="7.5" fill="#f00" stroke="#000" stroke-width="1.6"/>
<ellipse cx="1561.1" cy="409.4" rx="6.2" ry="7.5" fill="#f00" stroke="#000" stroke-width="1.6"/>
<ellipse cx="1574.6" cy="403.7" rx="6.2" ry="7.5" fill="#f00" stroke="#000" stroke-width="1.6"/>
<ellipse cx="1588.2" cy="397.3" rx="6.2" ry="7.5" fill="#f00" stroke="#000" stroke-width="1.6"/>
<ellipse cx="1602.9" cy="390.9" rx="6.2" ry="7.5" fill="#f00" stroke="#000" stroke-width="1.6"/>
<ellipse cx="1617.8" cy="385.4" rx="6.2" ry="7.5" fill="#f00" stroke="#000" stroke-width="1.6"/>
<ellipse cx="1633.5" cy="380.3" rx="6.2" ry="7.5" fill="#f00" stroke="#000" stroke-width="1.6"/>
<ellipse cx="1649" cy="375.6" rx="6.2" ry="7.5" fill="#f00" stroke="#000" stroke-width="1.6"/>
<ellipse cx="1665.4" cy="371.5" rx="6.2" ry="7.5" fill="#f00" stroke="#000" stroke-width="1.6"/>
<ellipse cx="1682.8" cy="367.4" rx="6.2" ry="7.5" fill="#f00" stroke="#000" stroke-width="1.6"/>
<ellipse cx="1700.5" cy="363.7" rx="6.2" ry="7.5" fill="#f00" stroke="#000" stroke-width="1.6"/>
<ellipse cx="1718.5" cy="359.9" rx="6.2" ry="7.5" fill="#f00" stroke="#000" stroke-width="1.6"/>
<ellipse cx="1737.3" cy="356.6" rx="6.2" ry="7.5" fill="#f00" stroke="#000" stroke-width="1.6"/>
<ellipse cx="1756.7" cy="353.5" rx="6.2" ry="7.5" fill="#f00" stroke="#000" stroke-width="1.6"/>
<ellipse cx="1777.1" cy="350.7" rx="6.2" ry="7.5" fill="#f00" stroke="#000" stroke-width="1.6"/>
<ellipse cx="1798.2" cy="347.6" rx="6.2" ry="7.5" fill="#f00" stroke="#000" stroke-width="1.6"/>
<ellipse cx="1820.4" cy="344.9" rx="6.2" ry="7.5" fill="#f00" stroke="#000" stroke-width="1.6"/>
<ellipse cx="1842.5" cy="342.9" rx="6.2" ry="7.5" fill="#f00" stroke="#000" stroke-width="1.6"/>
<ellipse cx="1866" cy="340.9" rx="6.2" ry="7.5" fill="#f00" stroke="#000" stroke-width="1.6"/>
<ellipse cx="1890.1" cy="338.8" rx="6.2" ry="7.5" fill="#f00" stroke="#000" stroke-width="1.6"/>
<ellipse cx="1915" cy="336.4" rx="6.2" ry="7.5" fill="#f00" stroke="#000" stroke-width="1.6"/>
<ellipse cx="1940.6" cy="334.7" rx="6.2" ry="7.5" fill="#f00" stroke="#000" stroke-width="1.6"/>
<ellipse cx="1967.1" cy="333.1" rx="6.2" ry="7.5" fill="#f00" stroke="#000" stroke-width="1.6"/>
<rect x="1555.2" y="523.5" width="411.5" height="94.1" fill="#fff" stroke="#000" stroke-width="2"/>
<line x1="1571.4" y1="554.8" x2="1623" y2="554.8" stroke="#000" stroke-width="1.8"/>
<line x1="1571.4" y1="586.2" x2="1623" y2="586.2" stroke="#000" stroke-width="1.8"/>
<ellipse cx="1596.7" cy="554.8" rx="6.5" ry="7.6" fill="#000" stroke="#000" stroke-width="1.2"/>
<ellipse cx="1596.7" cy="586.2" rx="6.2" ry="7.5" fill="#f00" stroke="#000" stroke-width="1.6"/>
<text transform="translate(1634.6 563.1) scale(1.0 1.1)" font-family="'Liberation Sans', Arial, Helvetica, sans-serif" font-size="22.4" font-weight="bold" text-anchor="start" fill="#000">High volatile Bituminous Coal</text>
<text transform="translate(1634.6 594.5) scale(1.0 1.1)" font-family="'Liberation Sans', Arial, Helvetica, sans-serif" font-size="22.4" font-weight="bold" text-anchor="start" fill="#000">Semi-Anthracite Coal</text>
<g stroke="#000" stroke-width="3" fill="none" stroke-linecap="butt">
<rect x="105.4" y="823" width="861.1" height="558"/>
<line x1="96.5" y1="1381" x2="105.4" y2="1381"/>
<line x1="96.5" y1="1195" x2="105.4" y2="1195"/>
<line x1="96.5" y1="1009" x2="105.4" y2="1009"/>
<line x1="96.5" y1="823" x2="105.4" y2="823"/>
<line x1="105.6" y1="1381" x2="105.6" y2="1389.5"/>
<line x1="191" y1="1381" x2="191" y2="1389.5"/>
<line x1="276.3" y1="1381" x2="276.3" y2="1389.5"/>
<line x1="361.7" y1="1381" x2="361.7" y2="1389.5"/>
<line x1="447" y1="1381" x2="447" y2="1389.5"/>
<line x1="532.4" y1="1381" x2="532.4" y2="1389.5"/>
<line x1="617.8" y1="1381" x2="617.8" y2="1389.5"/>
<line x1="703.1" y1="1381" x2="703.1" y2="1389.5"/>
<line x1="788.5" y1="1381" x2="788.5" y2="1389.5"/>
<line x1="873.8" y1="1381" x2="873.8" y2="1389.5"/>
<line x1="959.2" y1="1381" x2="959.2" y2="1389.5"/>
</g>
<text transform="translate(85.5 1389) scale(1.14 1.0)" font-family="'Liberation Sans', Arial, Helvetica, sans-serif" font-size="21.6" font-weight="bold" text-anchor="end" fill="#000">0</text>
<text transform="translate(85.5 1203) scale(1.14 1.0)" font-family="'Liberation Sans', Arial, Helvetica, sans-serif" font-size="21.6" font-weight="bold" text-anchor="end" fill="#000">5</text>
<text transform="translate(85.5 1017) scale(1.14 1.0)" font-family="'Liberation Sans', Arial, Helvetica, sans-serif" font-size="21.6" font-weight="bold" text-anchor="end" fill="#000">10</text>
<text transform="translate(85.5 831) scale(1.14 1.0)" font-family="'Liberation Sans', Arial, Helvetica, sans-serif" font-size="21.6" font-weight="bold" text-anchor="end" fill="#000">15</text>
<text transform="translate(105.6 1418.8) scale(1.11 1.0)" font-family="'Liberation Sans', Arial, Helvetica, sans-serif" font-size="21.2" font-weight="bold" text-anchor="middle" fill="#000">0.0</text>
<text transform="translate(191 1418.8) scale(1.11 1.0)" font-family="'Liberation Sans', Arial, Helvetica, sans-serif" font-size="21.2" font-weight="bold" text-anchor="middle" fill="#000">0.1</text>
<text transform="translate(276.3 1418.8) scale(1.11 1.0)" font-family="'Liberation Sans', Arial, Helvetica, sans-serif" font-size="21.2" font-weight="bold" text-anchor="middle" fill="#000">0.2</text>
<text transform="translate(361.7 1418.8) scale(1.11 1.0)" font-family="'Liberation Sans', Arial, Helvetica, sans-serif" font-size="21.2" font-weight="bold" text-anchor="middle" fill="#000">0.3</text>
<text transform="translate(447 1418.8) scale(1.11 1.0)" font-family="'Liberation Sans', Arial, Helvetica, sans-serif" font-size="21.2" font-weight="bold" text-anchor="middle" fill="#000">0.4</text>
<text transform="translate(532.4 1418.8) scale(1.11 1.0)" font-family="'Liberation Sans', Arial, Helvetica, sans-serif" font-size="21.2" font-weight="bold" text-anchor="middle" fill="#000">0.5</text>
<text transform="translate(617.8 1418.8) scale(1.11 1.0)" font-family="'Liberation Sans', Arial, Helvetica, sans-serif" font-size="21.2" font-weight="bold" text-anchor="middle" fill="#000">0.6</text>
<text transform="translate(703.1 1418.8) scale(1.11 1.0)" font-family="'Liberation Sans', Arial, Helvetica, sans-serif" font-size="21.2" font-weight="bold" text-anchor="middle" fill="#000">0.7</text>
<text transform="translate(788.5 1418.8) scale(1.11 1.0)" font-family="'Liberation Sans', Arial, Helvetica, sans-serif" font-size="21.2" font-weight="bold" text-anchor="middle" fill="#000">0.8</text>
<text transform="translate(873.8 1418.8) scale(1.11 1.0)" font-family="'Liberation Sans', Arial, Helvetica, sans-serif" font-size="21.2" font-weight="bold" text-anchor="middle" fill="#000">0.9</text>
<text transform="translate(959.2 1418.8) scale(1.11 1.0)" font-family="'Liberation Sans', Arial, Helvetica, sans-serif" font-size="21.2" font-weight="bold" text-anchor="middle" fill="#000">1.0</text>
<text transform="translate(380.6 1468.6) scale(1.127 1.0)" font-family="'Liberation Sans', Arial, Helvetica, sans-serif" font-size="25.6" font-weight="bold" text-anchor="start" fill="#000">Relative Pressure P/P</text>
<text transform="translate(680.8 1476.3) scale(1.2 1.0)" font-family="'Liberation Sans', Arial, Helvetica, sans-serif" font-size="16.2" font-weight="bold" text-anchor="start" fill="#000">0</text>
<text transform="translate(31.5 1103) rotate(-90) scale(1.0 1.15)" font-family="'Liberation Sans', Arial, Helvetica, sans-serif" font-size="26.6" font-weight="bold" text-anchor="middle" fill="#000">Volume @ STP (cc/g)</text>
<g stroke="#000" stroke-width="3" fill="none" stroke-linecap="butt">
<rect x="1125.8" y="822.8" width="855.6" height="557.7"/>
<line x1="1117.1" y1="1380.5" x2="1125.8" y2="1380.5"/>
<line x1="1117.1" y1="1194.6" x2="1125.8" y2="1194.6"/>
<line x1="1117.1" y1="1008.7" x2="1125.8" y2="1008.7"/>
<line x1="1117.1" y1="822.8" x2="1125.8" y2="822.8"/>
<line x1="1125.8" y1="1380.5" x2="1125.8" y2="1389"/>
<line x1="1210.6" y1="1380.5" x2="1210.6" y2="1389"/>
<line x1="1295.4" y1="1380.5" x2="1295.4" y2="1389"/>
<line x1="1380.2" y1="1380.5" x2="1380.2" y2="1389"/>
<line x1="1465" y1="1380.5" x2="1465" y2="1389"/>
<line x1="1549.8" y1="1380.5" x2="1549.8" y2="1389"/>
<line x1="1634.6" y1="1380.5" x2="1634.6" y2="1389"/>
<line x1="1719.4" y1="1380.5" x2="1719.4" y2="1389"/>
<line x1="1804.2" y1="1380.5" x2="1804.2" y2="1389"/>
<line x1="1889" y1="1380.5" x2="1889" y2="1389"/>
<line x1="1973.8" y1="1380.5" x2="1973.8" y2="1389"/>
</g>
<text transform="translate(1106 1388.5) scale(1.14 1.0)" font-family="'Liberation Sans', Arial, Helvetica, sans-serif" font-size="21.6" font-weight="bold" text-anchor="end" fill="#000">0</text>
<text transform="translate(1106 1202.6) scale(1.14 1.0)" font-family="'Liberation Sans', Arial, Helvetica, sans-serif" font-size="21.6" font-weight="bold" text-anchor="end" fill="#000">5</text>
<text transform="translate(1106 1016.7) scale(1.14 1.0)" font-family="'Liberation Sans', Arial, Helvetica, sans-serif" font-size="21.6" font-weight="bold" text-anchor="end" fill="#000">10</text>
<text transform="translate(1106 830.8) scale(1.14 1.0)" font-family="'Liberation Sans', Arial, Helvetica, sans-serif" font-size="21.6" font-weight="bold" text-anchor="end" fill="#000">15</text>
<text transform="translate(1125.8 1418.8) scale(1.11 1.0)" font-family="'Liberation Sans', Arial, Helvetica, sans-serif" font-size="21.2" font-weight="bold" text-anchor="middle" fill="#000">0.0</text>
<text transform="translate(1210.6 1418.8) scale(1.11 1.0)" font-family="'Liberation Sans', Arial, Helvetica, sans-serif" font-size="21.2" font-weight="bold" text-anchor="middle" fill="#000">0.1</text>
<text transform="translate(1295.4 1418.8) scale(1.11 1.0)" font-family="'Liberation Sans', Arial, Helvetica, sans-serif" font-size="21.2" font-weight="bold" text-anchor="middle" fill="#000">0.2</text>
<text transform="translate(1380.2 1418.8) scale(1.11 1.0)" font-family="'Liberation Sans', Arial, Helvetica, sans-serif" font-size="21.2" font-weight="bold" text-anchor="middle" fill="#000">0.3</text>
<text transform="translate(1465 1418.8) scale(1.11 1.0)" font-family="'Liberation Sans', Arial, Helvetica, sans-serif" font-size="21.2" font-weight="bold" text-anchor="middle" fill="#000">0.4</text>
<text transform="translate(1549.8 1418.8) scale(1.11 1.0)" font-family="'Liberation Sans', Arial, Helvetica, sans-serif" font-size="21.2" font-weight="bold" text-anchor="middle" fill="#000">0.5</text>
<text transform="translate(1634.6 1418.8) scale(1.11 1.0)" font-family="'Liberation Sans', Arial, Helvetica, sans-serif" font-size="21.2" font-weight="bold" text-anchor="middle" fill="#000">0.6</text>
<text transform="translate(1719.4 1418.8) scale(1.11 1.0)" font-family="'Liberation Sans', Arial, Helvetica, sans-serif" font-size="21.2" font-weight="bold" text-anchor="middle" fill="#000">0.7</text>
<text transform="translate(1804.2 1418.8) scale(1.11 1.0)" font-family="'Liberation Sans', Arial, Helvetica, sans-serif" font-size="21.2" font-weight="bold" text-anchor="middle" fill="#000">0.8</text>
<text transform="translate(1889 1418.8) scale(1.11 1.0)" font-family="'Liberation Sans', Arial, Helvetica, sans-serif" font-size="21.2" font-weight="bold" text-anchor="middle" fill="#000">0.9</text>
<text transform="translate(1973.8 1418.8) scale(1.11 1.0)" font-family="'Liberation Sans', Arial, Helvetica, sans-serif" font-size="21.2" font-weight="bold" text-anchor="middle" fill="#000">1.0</text>
<text transform="translate(1399.1 1468.6) scale(1.127 1.0)" font-family="'Liberation Sans', Arial, Helvetica, sans-serif" font-size="25.6" font-weight="bold" text-anchor="start" fill="#000">Relative Pressure P/P</text>
<text transform="translate(1698.4 1476.3) scale(1.2 1.0)" font-family="'Liberation Sans', Arial, Helvetica, sans-serif" font-size="16.2" font-weight="bold" text-anchor="start" fill="#000">0</text>
<text transform="translate(1051.5 1103) rotate(-90) scale(1.0 1.15)" font-family="'Liberation Sans', Arial, Helvetica, sans-serif" font-size="26.6" font-weight="bold" text-anchor="middle" fill="#000">Volume @ STP (cc/g)</text>
<path fill="none" stroke="#000" stroke-width="2.9" stroke-linejoin="round" stroke-linecap="round" d="M118.2 1372.5 C120.6 1371.3 127.7 1367.8 132.8 1365.6 C138 1363.4 143.1 1361.3 149.1 1359.3 C155.1 1357.3 162.1 1355.8 169.1 1353.8 C176.1 1351.8 183.7 1349.5 191 1347.4 C198.3 1345.3 205.2 1343.2 212.8 1341.1 C220.4 1339 228.6 1336.7 236.5 1334.7 C244.4 1332.7 252.5 1330.9 260.1 1329.2 C267.7 1327.5 274.7 1326.2 282 1324.7 C289.3 1323.2 297.1 1321.3 303.8 1320.1 C310.5 1318.9 316.6 1318.2 322 1317.4 C327.4 1316.7 331.9 1315.8 336.5 1315.6 C341.1 1315.4 346 1316.4 349.3 1316.1 C352.6 1315.8 353.8 1315.2 356.5 1313.8 C359.2 1312.3 362.6 1309.7 365.6 1307.4 C368.6 1305.1 371.4 1302.2 374.7 1300.1 C378 1298 381.4 1296.2 385.7 1294.7 C389.9 1293.2 394.8 1292.1 400.2 1291 C405.6 1289.9 410 1290.1 418.4 1288.3 C426.8 1286.5 439.5 1282.6 450.5 1280.3 C461.5 1278 473 1276.5 484.2 1274.4 C495.4 1272.3 508.1 1269.4 517.9 1267.6 C527.7 1265.8 534.8 1264.9 543.2 1263.7 C551.6 1262.5 558.7 1261.7 568.5 1260.4 C578.3 1259.1 592.7 1256.4 602.2 1255.8 C611.7 1255.2 620.7 1256.4 625.7 1256.7 C630.8 1257 629.7 1258.1 632.5 1257.8 C635.3 1257.5 638.7 1257.6 642.6 1255 C646.5 1252.4 651.6 1246.4 656.1 1242.3 C660.6 1238.2 665 1233.2 669.5 1230.6 C674 1228 677.9 1227.6 683 1226.7 C688.1 1225.8 691.6 1226.1 699.9 1225 C708.1 1223.9 720 1222.1 732.5 1220.3 C745 1218.5 760.8 1215.9 774.9 1214.3 C789 1212.7 803.2 1211.9 817.4 1210.4 C831.5 1208.9 849.9 1206.3 859.8 1205.4 C869.7 1204.5 871.6 1204.6 876.8 1205 C882 1205.4 887.1 1207.8 890.9 1208 C894.7 1208.2 896.3 1209 899.4 1206.1 C902.5 1203.2 905.5 1195.9 909.3 1190.6 C913.1 1185.3 918.5 1175.5 922.1 1174.3 C925.7 1173.1 927.9 1180.1 930.6 1183.5 C933.3 1186.9 935.9 1193.8 938.3 1194.5 C940.6 1195.2 943.2 1192.1 944.7 1187.7 C946.2 1183.3 946.7 1175.9 947.5 1167.9 C948.3 1160 948.9 1151.3 949.5 1140 C950.1 1128.7 951 1106.7 951.3 1100"/>
<path fill="none" stroke="#000" stroke-width="2.9" stroke-linejoin="round" stroke-linecap="round" d="M948.3 1158 C948 1159 947.4 1163.3 946.8 1164 C946.2 1164.7 946 1163.5 944.7 1162.3 C943.4 1161.1 942.3 1157.4 939 1156.6 C935.7 1155.8 931.5 1157.1 924.9 1157.3 C918.3 1157.5 905.5 1157.3 899.4 1157.7 C893.3 1158.1 891.9 1160.3 888.1 1159.4 C884.3 1158.5 880.1 1154.5 876.8 1152.4 C873.5 1150.3 871.1 1147.9 868.3 1147 C865.5 1146.1 862.9 1146.6 859.8 1147 C856.7 1147.4 855.3 1148.8 849.9 1149.2 C844.5 1149.6 834.4 1149.7 827.3 1149.2 C820.2 1148.7 814.2 1146.5 807.4 1146 C800.5 1145.5 793.3 1146.1 786.2 1146 C779.1 1145.9 772.1 1146 765 1145.3 C757.9 1144.6 749.9 1142.3 743.8 1141.7 C737.7 1141.1 734.1 1140.9 728.2 1141.7 C722.3 1142.5 714.8 1146 708.4 1146.7 C702 1147.4 695.1 1145.9 690 1146 C684.9 1146.1 682.5 1146.5 678 1147.2 C673.5 1147.9 669.8 1149.5 662.8 1149.9 C655.8 1150.4 641.7 1149.7 635.8 1149.9 C629.9 1150.1 632.4 1149.5 627.4 1151 C622.4 1152.5 612.5 1157.4 605.5 1158.6 C598.5 1159.8 591.5 1157.5 585.3 1158.1 C579.1 1158.7 574.4 1160.6 568.5 1162.3 C562.6 1164 555.2 1166 549.9 1168.2 C544.6 1170.5 540.1 1174 536.5 1175.8 C532.9 1177.6 531.1 1178.6 528 1178.8 C524.9 1179 521 1177.8 517.9 1177.2 C514.8 1176.7 512.3 1175.6 509.5 1175.5 C506.7 1175.4 505 1175.7 501.1 1176.7 C497.2 1177.7 490.1 1180.9 485.9 1181.7 C481.7 1182.5 478.9 1181.9 475.8 1181.7 C472.7 1181.5 470.8 1179.9 467.4 1180.5 C464 1181.1 459.2 1183.5 455.6 1185.1 C452 1186.7 449.7 1188.6 445.5 1190.1 C441.3 1191.6 434.5 1193 430.3 1194.3 C426.1 1195.6 423.7 1195.8 420.2 1197.7 C416.7 1199.6 412.6 1203.4 409.3 1205.5 C406 1207.6 404.8 1209.4 400.2 1210.1 C395.6 1210.8 386.6 1209.6 382 1209.7 C377.4 1209.8 376.5 1209.6 372.9 1210.6 C369.3 1211.6 364.4 1213.5 360.2 1215.5 C356 1217.5 351.4 1220.5 347.5 1222.8 C343.6 1225.1 339.9 1227.6 336.5 1229.2 C333.1 1230.8 331.9 1231.8 327.4 1232.3 C322.8 1232.8 314.3 1231.7 309.2 1232.3 C304.1 1232.9 301 1234.3 296.5 1236.1 C292 1237.8 286.6 1240.6 282 1242.8 C277.4 1245 273.1 1247.4 269.2 1249.2 C265.2 1251 262.2 1252.4 258.3 1253.7 C254.4 1255 249.8 1255.6 245.6 1256.8 C241.3 1258 237.7 1259.1 232.8 1261 C227.9 1262.9 221.6 1265.7 216.4 1268.3 C211.2 1270.9 207.4 1273.6 201.9 1276.5 C196.4 1279.4 186.7 1284.1 183.7 1285.6"/>
<polyline fill="none" stroke="#000" stroke-width="2.2" stroke-linejoin="round" points="951.3,1100 952.5,1070 953.5,1043 954.8,990 956,930 957.2,876"/>
<polygon fill="#000" points="956.2,876 958.7,876 959,1043 959.2,1095 956,1101 952.5,1125 949.5,1160 946.5,1163 949,1125 951.5,1085 953.2,1043 954.8,960"/>
<rect x="954.6" y="1046" width="2.4" height="42" fill="#fff"/>
<polyline fill="none" stroke="#000" stroke-width="2.2" stroke-linejoin="round" points="957.2,876 957.9,900 958.1,1000 958.1,1092 956,1100 953,1115 950.5,1140 948.3,1158"/>
<path fill="none" stroke="#f00" stroke-width="2.9" stroke-linejoin="round" stroke-linecap="round" d="M1138.5 1376.3 C1142.8 1375.3 1152.8 1372.5 1164.6 1370.4 C1176.4 1368.3 1199.5 1365.5 1209.5 1363.6 C1219.5 1361.7 1218.2 1360.8 1224.4 1359.1 C1230.6 1357.4 1240.8 1354.8 1246.8 1353.2 C1252.8 1351.6 1254.3 1350.8 1260.5 1349.6 C1266.7 1348.3 1278.5 1346.8 1284.2 1345.7 C1289.9 1344.6 1289.8 1344 1294.8 1342.8 C1299.8 1341.5 1309.1 1339.2 1314.1 1338.2 C1319.1 1337.2 1317.2 1337.9 1324.7 1336.8 C1332.2 1335.7 1351.5 1332.9 1359 1331.5 C1366.5 1330.1 1360.4 1330.4 1369.6 1328.6 C1378.8 1326.8 1401.2 1323 1414.4 1320.4 C1427.6 1317.8 1438.8 1314.3 1448.8 1312.9 C1458.8 1311.5 1468.7 1312.7 1474.2 1312.2 C1479.7 1311.8 1476.7 1313.1 1481.7 1310.2 C1486.7 1307.3 1497.9 1298.5 1504.1 1295 C1510.3 1291.5 1514.8 1290.3 1519.1 1289 C1523.4 1287.7 1524.5 1288.7 1530 1287.4 C1535.5 1286.1 1544.9 1283.3 1552.4 1281.4 C1559.9 1279.5 1567.3 1277.4 1574.8 1276.2 C1582.3 1275 1590.8 1274.8 1597.3 1274 C1603.8 1273.2 1608.7 1272.8 1613.7 1271.7 C1618.7 1270.6 1622.5 1269.6 1627.2 1267.2 C1631.9 1264.8 1636.6 1260.7 1642.1 1257.5 C1647.6 1254.3 1653.8 1250.9 1660 1247.8 C1666.2 1244.7 1672.5 1241.4 1679.5 1238.8 C1686.5 1236.2 1694.4 1234.2 1701.9 1232.1 C1709.4 1230 1715.6 1228.4 1724.3 1226.4 C1733 1224.4 1744.9 1222.2 1754.2 1220.1 C1763.5 1218 1770.2 1216.4 1780 1214 C1789.8 1211.6 1802 1208.5 1813 1205.8 C1824 1203 1835 1200 1846 1197.5 C1857 1195 1868 1192.9 1879 1191 C1890 1189.1 1903.2 1187.9 1912 1186 C1920.8 1184.1 1926.9 1180 1931.9 1179.4 C1936.9 1178.9 1938.5 1180.3 1941.8 1182.7 C1945.1 1185.1 1948.5 1193.9 1951.7 1193.6 C1954.9 1193.3 1958.8 1190.3 1961 1181 C1963.2 1171.7 1963.4 1159 1964.6 1138 C1965.8 1117 1966.8 1084 1968.2 1055 C1969.6 1026 1972 979.2 1972.8 964"/>
<path fill="none" stroke="#f00" stroke-width="2.9" stroke-linejoin="round" stroke-linecap="round" d="M1972.8 964 C1972.4 976.5 1971.2 1015.5 1970.2 1039 C1969.2 1062.5 1968.2 1085.7 1966.8 1105 C1965.3 1124.3 1964 1143.6 1961.5 1154.6 C1959 1165.6 1954.4 1168.6 1951.7 1171.1 C1949 1173.6 1947.8 1171.6 1945.1 1169.5 C1942.3 1167.4 1938.5 1160.5 1935.2 1158.6 C1931.9 1156.7 1929.2 1156.7 1925.3 1158 C1921.4 1159.3 1917.6 1163.7 1912.1 1166.2 C1906.6 1168.7 1901.1 1169.5 1892.3 1172.8 C1883.5 1176.1 1868 1183.6 1859.2 1186 C1850.4 1188.4 1847.4 1186.8 1839.4 1187 C1831.4 1187.2 1817.7 1186.8 1811 1187.3 C1804.3 1187.8 1803.5 1188.7 1799 1190.3 C1794.5 1191.9 1790.3 1194.5 1784.1 1197 C1777.9 1199.5 1767.9 1203.3 1761.7 1205.2 C1755.5 1207.1 1755.4 1207.8 1746.7 1208.2 C1738 1208.7 1718.1 1207.4 1709.4 1207.9 C1700.7 1208.4 1699.4 1209.5 1694.4 1211.2 C1689.4 1212.9 1685.7 1215.3 1679.5 1217.9 C1673.3 1220.5 1664.6 1223.8 1657.1 1226.9 C1649.6 1230 1641.3 1234 1634.6 1236.6 C1627.9 1239.2 1621.7 1241.1 1616.7 1242.3 C1611.7 1243.5 1610.2 1243.6 1604.7 1243.8 C1599.2 1244 1589.3 1242.9 1583.8 1243.3 C1578.3 1243.7 1576.4 1244.8 1571.9 1246.3 C1567.4 1247.8 1561.9 1250.4 1556.9 1252.3 C1551.9 1254.2 1546.5 1255.5 1542 1257.5 C1537.5 1259.5 1534.8 1261.4 1530 1264.2 C1525.2 1267 1516.9 1272.2 1513.1 1274.1 C1509.3 1276 1511.1 1275.8 1507.1 1275.6 C1503.1 1275.3 1493.4 1273.2 1489.2 1272.6 C1485 1272 1484.2 1271.6 1481.7 1271.8 C1479.2 1272 1479.2 1271.8 1474.2 1273.8 C1469.2 1275.8 1458.8 1280.9 1451.8 1283.8 C1444.8 1286.7 1438.6 1288.4 1432.4 1291.3 C1426.2 1294.2 1419.4 1298.8 1414.4 1301 C1409.4 1303.2 1408.7 1304.1 1402.5 1304.7 C1396.3 1305.3 1382.6 1304.5 1377.1 1304.7 C1371.6 1305 1374.6 1304.3 1369.6 1306.2 C1364.6 1308.1 1354.7 1312.8 1347.2 1315.9 C1339.7 1319 1332.2 1321.5 1324.7 1324.9 C1317.2 1328.3 1310.3 1333.5 1302.3 1336.1 C1294.3 1338.7 1281.1 1339.8 1276.9 1340.6"/>
</svg></body></html>
